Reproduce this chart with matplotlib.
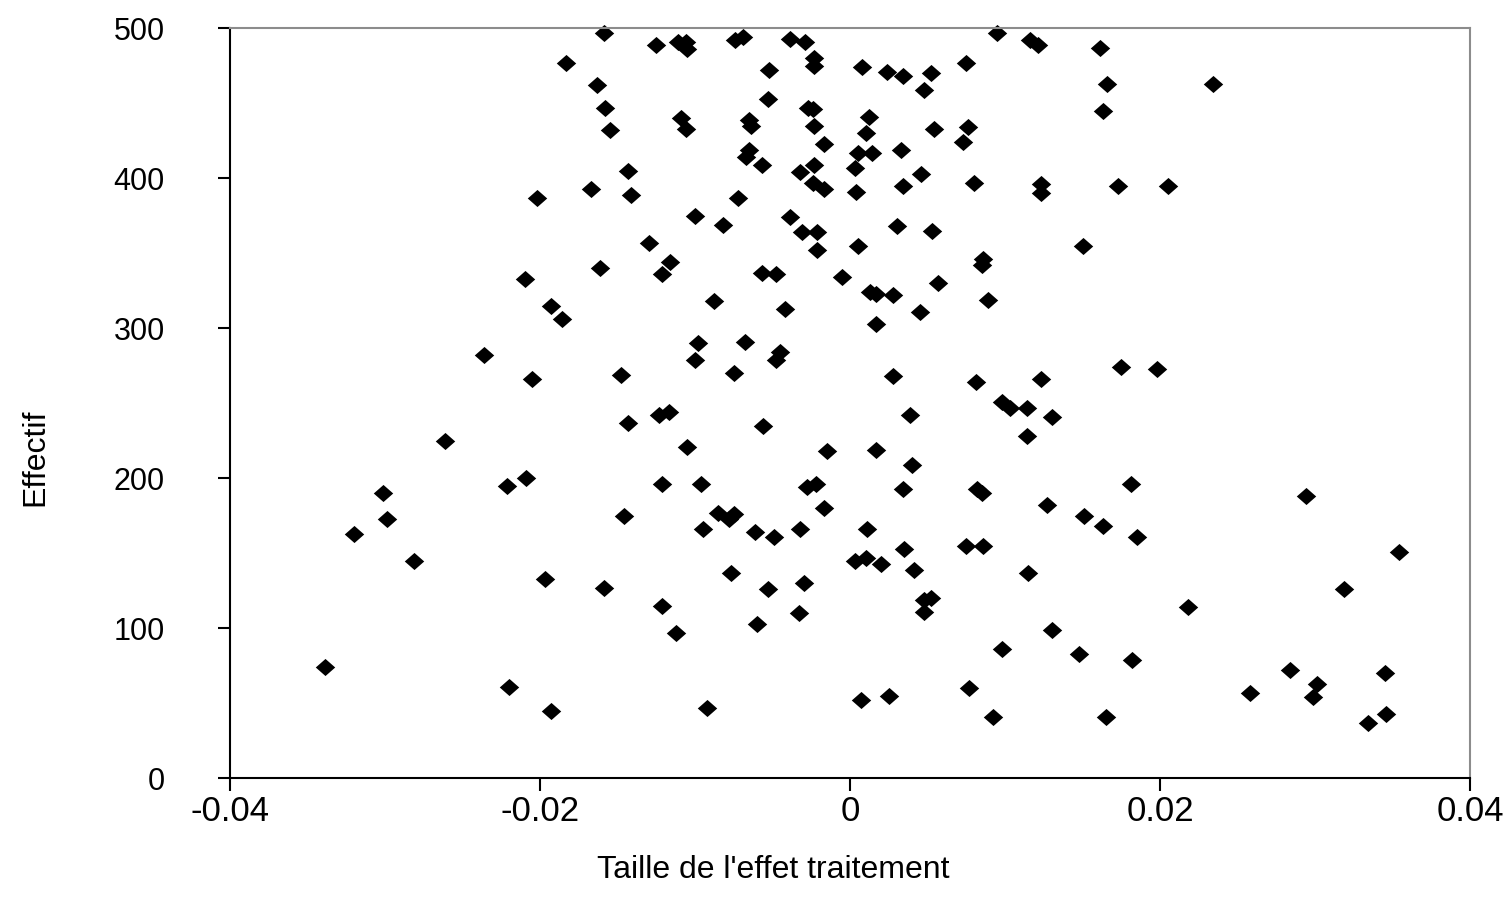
import matplotlib
matplotlib.use("Agg")
import matplotlib.pyplot as plt

plt.rcParams['font.family'] = ['Liberation Sans', 'DejaVu Sans']

# Treatment effect size (x) and sample size (y)
effet = [
    -0.0159, -0.0183, -0.0163, -0.0158, -0.0155, -0.0143, -0.0167, -0.0141, -0.0202, -0.0161,
    -0.0210, -0.0193, -0.0186, -0.0236, -0.0205, -0.0148, -0.0125, -0.0111, -0.0106, -0.0105,
    -0.0074, -0.0069, -0.0039, -0.0029, -0.0023, -0.0023, -0.0052, 0.0008, 0.0024, 0.0034,
    0.0052, 0.0048, 0.0075, 0.0095, 0.0116, 0.0121, -0.0053, -0.0027, -0.0024, 0.0012,
    -0.0109, -0.0106, -0.0065, -0.0064, -0.0023, 0.0010, 0.0054, 0.0076, 0.0073, -0.0017,
    -0.0065, -0.0067, -0.0057, 0.0005, 0.0014, 0.0033, 0.0003, -0.0023, -0.0032, -0.0024,
    -0.0017, 0.0004, 0.0046, 0.0034, 0.0080, 0.0123, 0.0123, -0.0072, -0.0100, -0.0082,
    -0.0039, -0.0031, -0.0021, -0.0021, 0.0005, 0.0030, 0.0053, -0.0130, -0.0116, -0.0121,
    -0.0057, -0.0048, -0.0005, 0.0086, 0.0085, -0.0088, -0.0042, 0.0013, 0.0017, 0.0028,
    0.0057, 0.0089, 0.0045, 0.0017, -0.0098, -0.0100, -0.0068, -0.0045, -0.0048, -0.0075,
    0.0028, 0.0081, 0.0123, 0.0098, 0.0103, 0.0114, -0.0123, -0.0117, 0.0161, 0.0166,
    0.0234, 0.0163, 0.0173, 0.0205, 0.0150, 0.0175, 0.0198, -0.0143, -0.0261, -0.0209,
    -0.0221, -0.0301, -0.0299, -0.0320, -0.0146, -0.0281, -0.0197, -0.0159, -0.0339, -0.0220,
    -0.0193, -0.0056, -0.0105, -0.0015, 0.0017, 0.0039, 0.0130, 0.0114, -0.0121, -0.0096,
    -0.0028, -0.0022, 0.0034, 0.0040, 0.0082, 0.0085, 0.0127, -0.0017, -0.0085, -0.0078,
    -0.0075, -0.0095, -0.0061, -0.0049, -0.0032, 0.0011, 0.0035, 0.0075, 0.0086, 0.0003,
    0.0010, 0.0020, 0.0041, 0.0115, -0.0077, -0.0053, -0.0030, 0.0048, 0.0052, 0.0048,
    0.0130, -0.0121, -0.0112, -0.0060, -0.0033, 0.0098, 0.0077, 0.0007, 0.0025, 0.0092,
    -0.0092, 0.0181, 0.0294, 0.0151, 0.0163, 0.0185, 0.0354, 0.0319, 0.0218, 0.0148,
    0.0182, 0.0165, 0.0258, 0.0284, 0.0301, 0.0299, 0.0345, 0.0346, 0.0334,
]
effectif = [
    497, 477, 462, 447, 432, 405, 393, 389, 387, 340,
    333, 315, 306, 282, 266, 269, 489, 491, 491, 486,
    492, 494, 493, 491, 480, 475, 472, 474, 471, 468,
    470, 459, 477, 497, 492, 489, 453, 447, 446, 441,
    440, 433, 439, 435, 435, 430, 433, 434, 424, 423,
    419, 414, 409, 417, 417, 419, 407, 409, 404, 397,
    393, 391, 403, 395, 397, 396, 390, 387, 375, 369,
    374, 364, 364, 352, 355, 368, 365, 357, 344, 336,
    337, 336, 334, 346, 342, 318, 313, 324, 323, 322,
    330, 319, 311, 303, 290, 279, 291, 284, 279, 270,
    268, 264, 266, 251, 247, 247, 242, 244, 487, 463,
    463, 445, 395, 395, 355, 274, 273, 237, 225, 200,
    195, 190, 173, 163, 175, 145, 133, 127, 74, 61,
    45, 235, 221, 218, 219, 242, 241, 228, 196, 196,
    194, 196, 193, 209, 193, 190, 182, 180, 177, 173,
    176, 166, 164, 161, 166, 166, 153, 155, 155, 145,
    147, 143, 139, 137, 137, 126, 130, 119, 120, 111,
    99, 115, 97, 103, 110, 86, 60, 52, 55, 41,
    47, 196, 188, 175, 168, 161, 151, 126, 114, 83,
    79, 41, 57, 72, 63, 54, 70, 43, 37,
]

x_ticks = [-0.04, -0.02, 0, 0.02, 0.04]
x_tick_labels = ["-0.04", "-0.02", "0", "0.02", "0.04"]
y_ticks = [0, 100, 200, 300, 400, 500]
y_tick_labels = ["0", "100", "200", "300", "400", "500"]

W, H = 1504, 911
fig = plt.figure(figsize=(W / 100, H / 100), dpi=100)
ax = fig.add_axes([230 / W, (H - 778) / H, 1240 / W, 750 / H])

diamond = [(-1, 0), (0, 0.88), (1, 0), (0, -0.88), (-1, 0)]
ax.plot(effet, effectif, linestyle='none', marker=diamond, ms=14,
        mfc='black', mec='black', mew=0, clip_on=False)

ax.set_xlim(-0.04, 0.04)
ax.set_ylim(0, 500)
ax.set_xticks(x_ticks)
ax.set_xticklabels(x_tick_labels)
ax.set_yticks(y_ticks)
ax.set_yticklabels(y_tick_labels)

for s in ['left', 'bottom']:
    ax.spines[s].set_color('black')
    ax.spines[s].set_linewidth(1.5)
for s in ['top', 'right']:
    ax.spines[s].set_color('#8c8c8c')
    ax.spines[s].set_linewidth(1.5)

ax.tick_params(axis='both', direction='out', length=9, width=1.5, color='black')
ax.tick_params(axis='y', pad=38, labelsize=22)
ax.tick_params(axis='x', pad=3, labelsize=25)

ax.set_xlabel("Taille de l'effet traitement", fontsize=23)
ax.set_ylabel("Effectif", fontsize=23)
ax.xaxis.set_label_coords(0.438, -0.1227)
ax.xaxis.label.set_va('center')
ax.yaxis.set_label_coords(-0.157, 0.428)
ax.yaxis.label.set_va('center')

fig.savefig("out.png", dpi=100, facecolor='white')
